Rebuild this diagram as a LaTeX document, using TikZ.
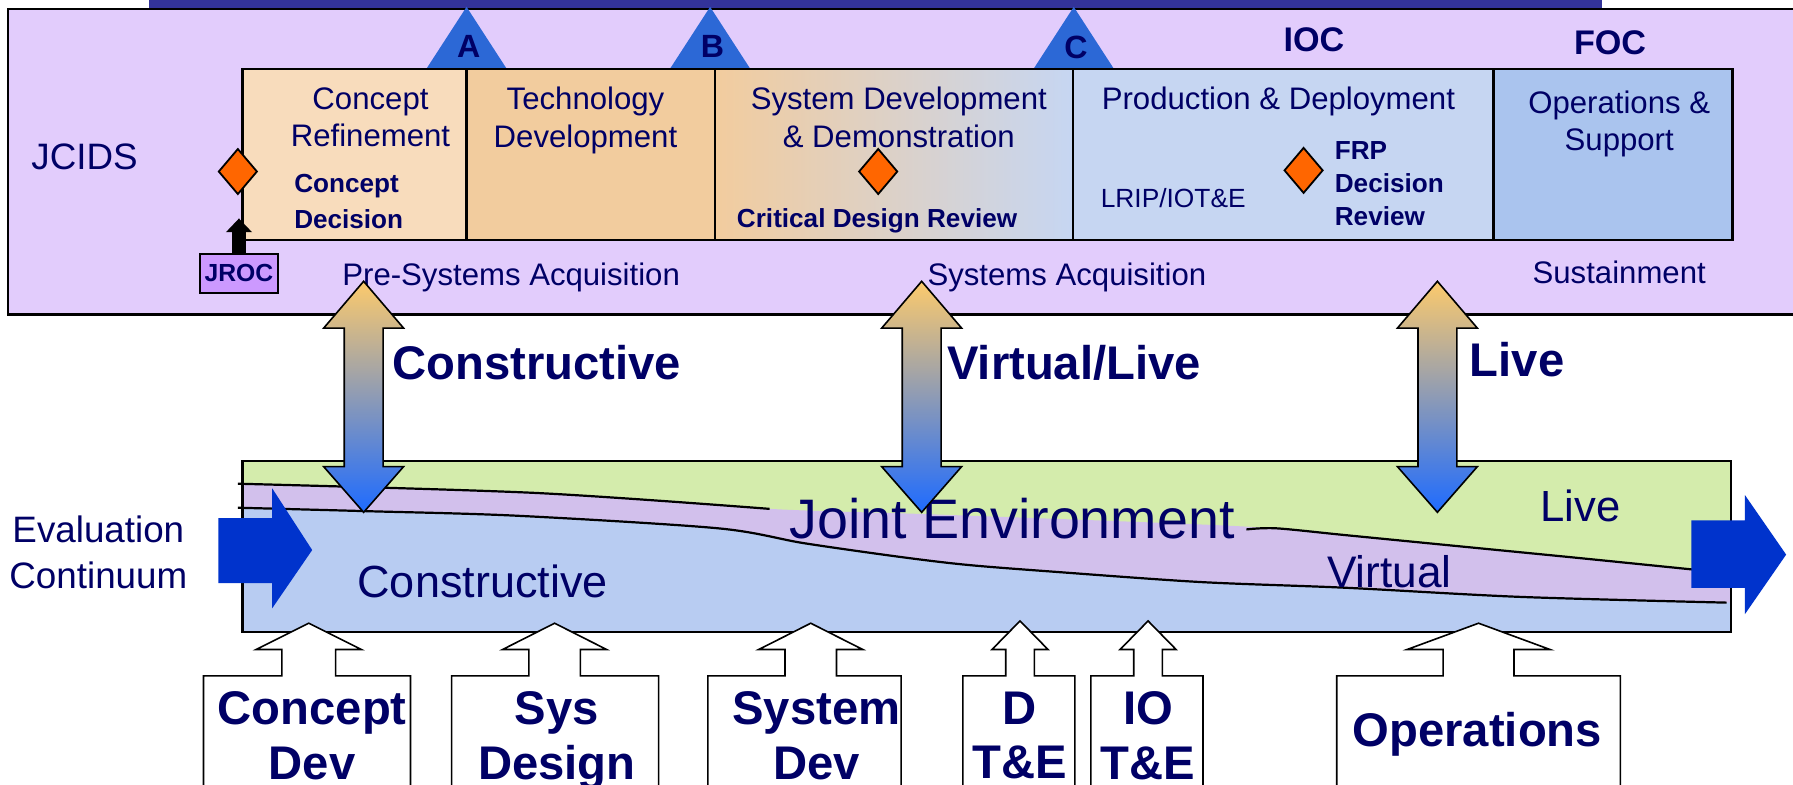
\documentclass[tikz,border=0pt]{standalone}
\usepackage{fontspec}
\setmainfont{Liberation Sans}
\usetikzlibrary{positioning,shapes.geometric,arrows.meta}

\definecolor{navytext}{RGB}{0,0,102}
\definecolor{barblue}{RGB}{51,51,153}
\definecolor{panelfill}{RGB}{226,204,252}
\definecolor{msblue}{RGB}{44,104,214}
\definecolor{crfill}{RGB}{248,220,188}
\definecolor{tdfill}{RGB}{242,204,158}
\definecolor{pdfill}{RGB}{198,214,242}
\definecolor{osfill}{RGB}{170,196,238}
\definecolor{diaorange}{RGB}{255,102,0}
\definecolor{jrocfill}{RGB}{204,153,255}
\definecolor{bandgreen}{RGB}{212,236,172}
\definecolor{bandpurple}{RGB}{210,192,236}
\definecolor{bandblue}{RGB}{184,204,242}
\definecolor{evalblue}{RGB}{0,51,204}
\definecolor{dbtop}{RGB}{252,202,108}
\definecolor{dbmid}{RGB}{200,166,196}
\definecolor{dbbot}{RGB}{30,107,255}

\tikzset{
  txt/.style={text=navytext, inner sep=0pt, text depth=0pt},
  phasetxt/.style={txt, align=center, font=\fontsize{15.5}{18.8}\selectfont},
  smallbold/.style={txt, font=\fontsize{13}{16.3}\selectfont\bfseries},
  bigbold/.style={txt, font=\fontsize{23.5}{27.3}\selectfont\bfseries},
  mslabel/.style={txt, font=\fontsize{16}{19}\selectfont\bfseries},
  phase/.style={draw, line width=1.1pt, minimum height=30mm, inner sep=0pt, outer sep=0pt},
  milestone/.style={diamond, draw, fill=diaorange, line width=0.9pt, minimum width=6.8mm, minimum height=8mm, inner sep=0pt},
  jrocbox/.style={draw, fill=jrocfill, line width=1.1pt, minimum width=13.6mm, minimum height=6.8mm, inner sep=0pt, text=navytext, font=\fontsize{12.3}{14}\selectfont\bfseries},
  jrocarrow/.style={line width=2.4mm, -{Triangle[width=4.4mm,length=2.4mm]}},
  envarrow/.style={draw=black, line width=0.8pt, top color=dbtop, middle color=dbmid, bottom color=dbbot},
  envline/.style={line width=1.1pt},
  calloutbox/.style={draw, fill=white, line width=0.8pt}
}

% vertical two-headed arrow at x = #1
\newcommand{\dblarrow}[1]{\shadedraw[envarrow] (#1,246) -- ({#1+35},287) -- ({#1+17},287) -- ({#1+17},408) -- ({#1+35},408) -- (#1,448) -- ({#1-35},408) -- ({#1-17},408) -- ({#1-17},287) -- ({#1-35},287) -- cycle;}
% box with an up arrow: left, right, tip x, shaft half width, head half width, tip y
\newcommand{\callout}[6]{\draw[calloutbox] (#1,700) -- (#1,591) -- ({#3-#4},591) -- ({#3-#4},568) -- ({#3-#5},568) -- (#3,#6) -- ({#3+#5},568) -- ({#3+#4},568) -- ({#3+#4},591) -- (#2,591) -- (#2,700) -- cycle;}

\begin{document}
\begin{tikzpicture}[x=0.2mm,y=-0.2mm]
\useasboundingbox (0,0) rectangle (1568,686);

% acquisition panel
\fill[barblue] (130,0) rectangle (1401,8);
\draw[fill=panelfill, line width=1.1pt] (7,8) rectangle (1580,275);

\foreach \x/\m in {408/A,621/B,939/C} {
  \fill[msblue] (\x,6) -- (\x+35,60) -- (\x-35,60) -- cycle;
  \node[mslabel] (ms\m) at (\x+2,41) {\m};
}

\node[phase, fill=crfill, minimum width=39.2mm, anchor=north west] (cr) at (212,60) {};
\node[phase, fill=tdfill, minimum width=43.4mm] (td) [right=0pt of cr] {};
\node[phase, left color=tdfill, right color=pdfill, minimum width=62.6mm] (sdd) [right=0pt of td] {};
\node[phase, fill=pdfill, minimum width=73.6mm] (pd) [right=0pt of sdd] {};
\node[phase, fill=osfill, minimum width=41.8mm] (os) [right=0pt of pd] {};

\node[txt, font=\fontsize{18.3}{22}\selectfont] (jcids) at (74,137) {JCIDS};
\node[txt, font=\fontsize{17}{20}\selectfont\bfseries] (ioc) at (1149,35) {IOC};
\node[txt, font=\fontsize{17}{20}\selectfont\bfseries] (foc) at (1408,37) {FOC};

\node[phasetxt] (crtxt) at (324,102.5) {Concept\\Refinement};
\node[phasetxt] (tdtxt) at (512,102.5) {Technology\\Development};
\node[phasetxt] (sddtxt) at (786,102.5) {System Development\\\& Demonstration};
\node[phasetxt] (pdtxt) at (1118,86) {Production \& Deployment};
\node[phasetxt] (ostxt) at (1416,105.5) {Operations \&\\Support};

\node[milestone] (cdec) at (208,150) {};
\node[milestone] (cdr) at (768,150) {};
\node[milestone] (frp) at (1140,149) {};

\node[smallbold, align=left, font=\fontsize{13}{18.2}\selectfont\bfseries, anchor=west] (cdectxt) at (257,176) {Concept\\Decision};
\node[smallbold] (cdrtxt) at (767,191) {Critical Design Review};
\node[txt, font=\fontsize{13.1}{16}\selectfont] (lrip) at (1026,173) {LRIP/IOT\&E};
\node[smallbold, align=left, anchor=west] (frptxt) at (1167,160.5) {FRP\\Decision\\Review};

\node[jrocbox] (jroc) at (209,239) {JROC};
\coordinate (jroctip) at (209,191);
\draw[jrocarrow] (jroc.north) -- (jroctip);

\node[phasetxt] (presys) at (447,240) {Pre-Systems Acquisition};
\node[phasetxt] (sysacq) at (933,240) {Systems Acquisition};
\node[phasetxt] (sustain) at (1416,238) {Sustainment};

% evaluation band
\node[txt, align=center, font=\fontsize{18.3}{22.8}\selectfont] (evalc) at (86,483) {Evaluation\\Continuum};

\fill[bandgreen] (212,403) rectangle (1514,553);
\fill[bandpurple] (212,553) -- plot[smooth] coordinates {(212,423.5) (467,431) (673,445) (821,450) (1080,460) (1177,468) (1279,478) (1381,488) (1480,498) (1514,501)} -- (1514,553) -- cycle;
\fill[bandblue] (212,553) -- plot[smooth] coordinates {(212,444) (320,447) (452,451) (628,462) (703,475) (787,487) (846,494) (922,500) (1050,509) (1177,514) (1330,522) (1514,527)} -- (1514,553) -- cycle;
\draw[envline] plot[smooth] coordinates {(208,423) (467,431) (673,445)};
\draw[envline] plot[smooth] coordinates {(1090,463) (1116,462) (1177,468) (1279,478) (1381,488) (1480,498)};
\draw[envline] plot[smooth] coordinates {(208,444) (320,447) (452,451) (628,462) (703,475) (787,487) (846,494) (922,500) (1050,509) (1177,514) (1330,522) (1510,527)};
\draw[line width=1.1pt] (212,403) rectangle (1514,553);

\node[txt, font=\fontsize{27.7}{32}\selectfont] (joint) at (885,453) {Joint Environment};
\node[txt, font=\fontsize{21.7}{26}\selectfont] (live) at (1382,442) {Live};
\node[txt, font=\fontsize{22}{26}\selectfont] (virtual) at (1215,500) {Virtual};
\node[txt, font=\fontsize{22.4}{26}\selectfont] (constr) at (422,508) {Constructive};

\fill[evalblue] (191,453) -- (238,453) -- (238,427) -- (273,481) -- (238,532) -- (238,510) -- (191,510) -- cycle;
\fill[evalblue] (1479,455) -- (1526,455) -- (1526,433) -- (1562,485) -- (1526,537) -- (1526,514) -- (1479,514) -- cycle;

% links between phases and environment
\dblarrow{318}
\dblarrow{806}
\dblarrow{1257}
\node[bigbold, anchor=west] (lconstr) at (343,317) {Constructive};
\node[bigbold, anchor=west] (lvirt) at (828,317) {Virtual/Live};
\node[bigbold, anchor=west] (llive) at (1285,314) {Live};

% activities feeding the continuum
\callout{178}{359}{270}{23.5}{46}{545}
\callout{395}{576}{485}{22.5}{45.5}{545}
\callout{619}{788}{709}{22.5}{45.5}{545}
\callout{842}{940}{892}{12.5}{24.5}{543}
\callout{954}{1052}{1004}{12.5}{24.5}{543}
\callout{1169}{1417}{1293}{31}{62.5}{545}

\node[bigbold, align=center] (cdev) at (273,643) {Concept\\Dev};
\node[bigbold, align=center] (sysdes) at (487,643) {Sys\\Design};
\node[bigbold, align=center] (sysdev) at (714,643) {System\\Dev};
\node[bigbold, align=center] (dte) at (892,643) {D\\T\&E};
\node[bigbold, align=center] (iote) at (1004,643) {IO\\T\&E};
\node[bigbold] (ops) at (1292,638) {Operations};
\end{tikzpicture}
\end{document}
